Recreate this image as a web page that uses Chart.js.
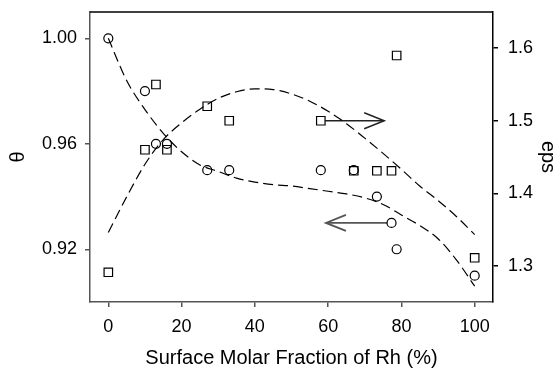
<!DOCTYPE html>
<html>
<head>
<meta charset="utf-8">
<script src="https://cdn.jsdelivr.net/npm/chart.js@4.4.0/dist/chart.umd.min.js"></script>
<style>
  body { margin: 0; background: #fff; }
  #wrap { width: 558px; height: 368px; }
</style>
</head>
<body>
<div id="wrap"><canvas id="chart"></canvas></div>
<script>
// measured points (surface molar fraction of Rh, %)
const fracX = [0, 10, 13, 16, 27, 33, 58, 67, 73.3, 77.3, 78.7, 100];
const thetaVals = [1.000, 0.980, 0.960, 0.960, 0.950, 0.950, 0.950, 0.950, 0.940, 0.930, 0.920, 0.910];
const epsVals = [1.291, 1.460, 1.550, 1.460, 1.520, 1.500, 1.500, 1.431, 1.431, 1.431, 1.590, 1.311];

// dashed fit curves
const fitX = [0, 5, 10, 15, 20, 25, 30, 35, 40, 45, 50, 55, 60, 65, 70, 75, 80, 85, 90, 95, 100];
const thetaFit = [1.000, 0.984, 0.973, 0.964, 0.957, 0.952, 0.9495, 0.947, 0.9455, 0.9445, 0.944, 0.943, 0.942, 0.941, 0.9395, 0.937, 0.933, 0.929, 0.924, 0.916, 0.906];
const epsFit = [1.346, 1.395, 1.440, 1.474, 1.497, 1.516, 1.531, 1.540, 1.544, 1.543, 1.537, 1.527, 1.513, 1.496, 1.476, 1.455, 1.433, 1.410, 1.390, 1.368, 1.343];

// arrows pointing at each curve's axis
const arrowEpsX = [59.2, 75.3];
const arrowEpsY = [1.50, 1.50];
const arrowThetaX = [76.1, 59.4];
const arrowThetaY = [0.93, 0.93];

const xTicks = [0, 20, 40, 60, 80, 100];
const thetaTicks = [0.92, 0.96, 1.00];
const epsTicks = [1.3, 1.4, 1.5, 1.6];

const pts = (xs, ys) => xs.map((x, i) => ({x: x, y: ys[i]}));
const FONT = 'Liberation Sans, Arial, sans-serif';

// fixed box sizes so the plot area lands where the reference has it
const fitY = w => s => { s.width = w; s.paddingTop = 0; s.paddingBottom = 0; };

// open chevron heads on the arrow datasets + top frame line
const extras = {
  id: 'extras',
  afterDatasetsDraw(chart) {
    const ctx = chart.ctx;
    chart.data.datasets.forEach((ds, i) => {
      if (!ds.arrow) return;
      const p = chart.getDatasetMeta(i).data;
      const a = p[p.length - 2], b = p[p.length - 1];
      const ang = Math.atan2(b.y - a.y, b.x - a.x);
      const c = Math.cos(ang), s = Math.sin(ang);
      ctx.save();
      ctx.strokeStyle = ds.borderColor;
      ctx.lineWidth = ds.borderWidth;
      ctx.beginPath();
      ctx.moveTo(b.x - 20 * c + 8 * s, b.y - 20 * s - 8 * c);
      ctx.lineTo(b.x, b.y);
      ctx.lineTo(b.x - 20 * c - 8 * s, b.y - 20 * s + 8 * c);
      ctx.stroke();
      ctx.restore();
    });
    const area = chart.chartArea;
    ctx.save();
    ctx.strokeStyle = '#000';
    ctx.lineWidth = 1.5;
    ctx.beginPath();
    ctx.moveTo(area.left, area.top);
    ctx.lineTo(area.right, area.top);
    ctx.stroke();
    ctx.restore();
  }
};

const ctx = document.getElementById('chart').getContext('2d');
let myChart = new Chart(ctx, {
  type: 'scatter',
  data: {
    datasets: [{
      data: pts(fitX, thetaFit),
      yAxisID: 'y',
      showLine: true,
      borderColor: '#000',
      borderWidth: 1.2,
      borderDash: [10, 5],
      cubicInterpolationMode: 'monotone',
      pointRadius: 0
    }, {
      data: pts(fitX, epsFit),
      yAxisID: 'y2',
      showLine: true,
      borderColor: '#000',
      borderWidth: 1.2,
      borderDash: [10, 5],
      cubicInterpolationMode: 'monotone',
      pointRadius: 0
    }, {
      data: pts(fracX, thetaVals),
      yAxisID: 'y',
      pointStyle: 'circle',
      pointRadius: 4.5,
      pointBorderWidth: 1.2,
      pointBorderColor: '#000',
      pointBackgroundColor: 'rgba(0,0,0,0)'
    }, {
      data: pts(fracX, epsVals),
      yAxisID: 'y2',
      pointStyle: 'rect',
      pointRadius: 6,
      pointBorderWidth: 1.2,
      pointBorderColor: '#000',
      pointBackgroundColor: 'rgba(0,0,0,0)'
    }, {
      data: pts(arrowEpsX, arrowEpsY),
      yAxisID: 'y2',
      arrow: true,
      showLine: true,
      borderColor: '#222',
      borderWidth: 1.5,
      pointRadius: 0
    }, {
      data: pts(arrowThetaX, arrowThetaY),
      yAxisID: 'y',
      arrow: true,
      showLine: true,
      borderColor: '#555',
      borderWidth: 1.8,
      pointRadius: 0
    }]
  },
  options: {
    responsive: true,
    maintainAspectRatio: false,
    animation: false,
    layout: {
      padding: {top: 12, left: 0, right: 0, bottom: 0}
    },
    plugins: {
      legend: {display: false},
      tooltip: {enabled: false}
    },
    scales: {
      x: {
        type: 'linear',
        min: -5,
        max: 105,
        afterFit: s => { s.height = 66; s.paddingLeft = 0; s.paddingRight = 0; },
        afterBuildTicks: s => { s.ticks = xTicks.map(v => ({value: v})); },
        border: {display: true, color: '#555', width: 1.5},
        grid: {display: true, drawOnChartArea: false, tickLength: 5, color: '#555', lineWidth: 1.5},
        ticks: {color: '#000', padding: 9, font: {family: FONT, size: 18}, callback: v => String(v)},
        title: {display: true, text: 'Surface Molar Fraction of Rh (%)', color: '#000',
                font: {family: FONT, size: 20, lineHeight: 1}, padding: {top: 0, bottom: 0}}
      },
      y: {
        type: 'linear',
        position: 'left',
        min: 0.90,
        max: 1.01,
        afterFit: fitY(90),
        afterBuildTicks: s => { s.ticks = thetaTicks.map(v => ({value: v})); },
        border: {display: true, color: '#555', width: 1.5},
        grid: {display: true, drawOnChartArea: false, tickLength: 5, color: '#555', lineWidth: 1.5},
        ticks: {color: '#000', padding: 8, font: {family: FONT, size: 18}, callback: v => v.toFixed(2)},
        title: {display: true, text: 'θ', color: '#000',
                font: {family: FONT, size: 20, lineHeight: 1}, padding: {top: 8, bottom: 0}}
      },
      y2: {
        type: 'linear',
        position: 'right',
        min: 1.25,
        max: 1.65,
        afterFit: fitY(65),
        afterBuildTicks: s => { s.ticks = epsTicks.map(v => ({value: v})); },
        border: {display: true, color: '#000', width: 1.5},
        grid: {display: true, drawOnChartArea: false, tickLength: 5, color: '#000', lineWidth: 1.5},
        ticks: {color: '#000', padding: 10, font: {family: FONT, size: 18}, callback: v => v.toFixed(1)},
        title: {display: true, text: 'eps', color: '#000',
                font: {family: FONT, size: 20, lineHeight: 1}, padding: {top: 0, bottom: 0}}
      }
    }
  },
  plugins: [extras]
});
</script>
</body>
</html>
